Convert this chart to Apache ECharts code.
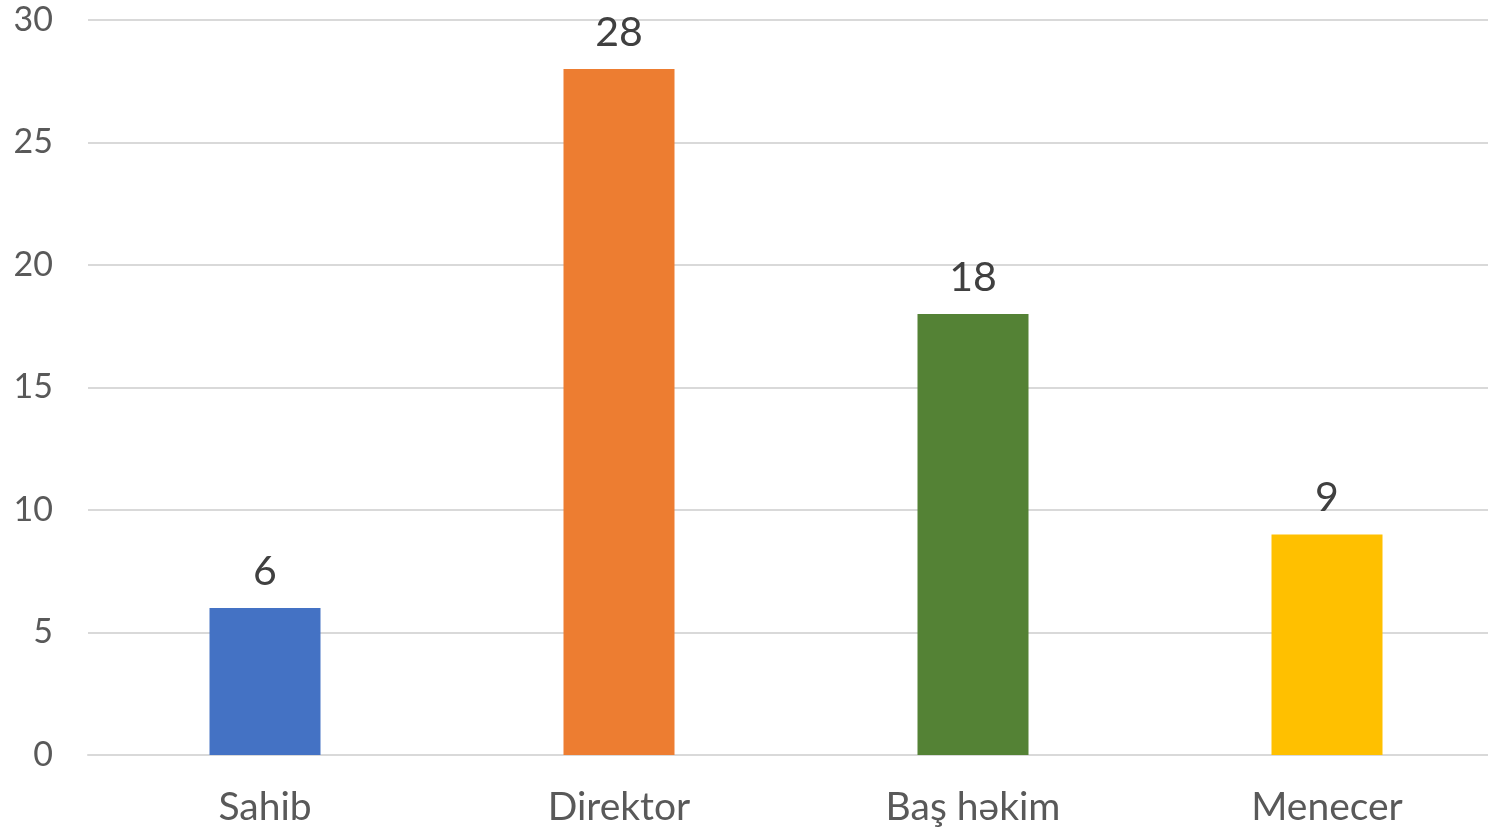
<!DOCTYPE html>
<html>
<head>
<meta charset="utf-8">
<script src="https://cdn.jsdelivr.net/npm/echarts@6/dist/echarts.min.js"></script>
<style>
  html, body { margin: 0; padding: 0; background: #fff; overflow: hidden; }
  #wrap { width: 1488px; height: 832px; overflow: hidden; }
  /* the plot runs past the right edge, as in the original picture */
  #chart { width: 1504px; height: 832px; }
</style>
</head>
<body>
<div id="wrap"><div id="chart"></div></div>
<script>
const categories = ['Sahib', 'Direktor', 'Baş həkim', 'Menecer']
const values = [6, 28, 18, 9]
const barColors = ['#4472C4', '#ED7D31', '#548235', '#FFC000']

const chart = echarts.init(document.getElementById('chart'))

chart.setOption({
  animation: false,
  grid: {
    left: 88,
    right: 0,
    top: 20,
    bottom: 77
  },
  xAxis: {
    type: 'category',
    data: categories,
    axisLine: { lineStyle: { color: '#d9d9d9', width: 2 } },
    axisTick: { show: false },
    axisLabel: {
      color: '#595959',
      fontFamily: 'Lato',
      fontSize: 39,
      margin: 33
    }
  },
  yAxis: {
    type: 'value',
    min: 0,
    max: 30,
    interval: 5,
    axisLine: { show: false },
    axisTick: { show: false },
    splitLine: { lineStyle: { color: '#d9d9d9', width: 2 } },
    axisLabel: {
      color: '#595959',
      fontFamily: 'Lato',
      fontSize: 34,
      margin: 35
    }
  },
  series: [
    {
      type: 'bar',
      barWidth: 111,
      data: values.map((v, i) => ({ value: v, itemStyle: { color: barColors[i] } })),
      label: {
        show: true,
        position: 'top',
        distance: 16,
        color: '#404040',
        fontFamily: 'Lato',
        fontSize: 41
      }
    }
  ]
})
</script>
</body>
</html>
